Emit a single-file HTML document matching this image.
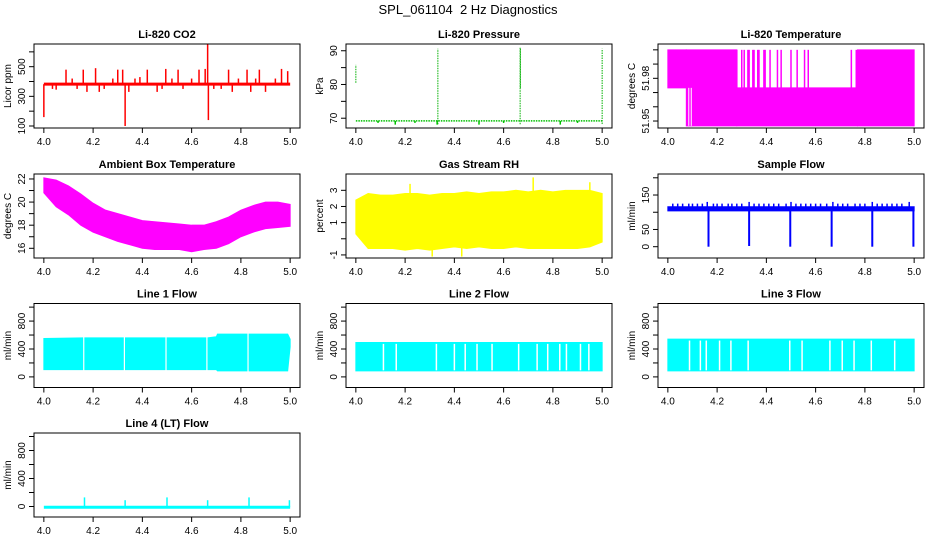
<!DOCTYPE html>
<html><head><meta charset="utf-8"><style>
html,body{margin:0;padding:0;background:#fff;}
svg{display:block;font-family:"Liberation Sans",sans-serif;}
</style></head><body>
<svg id="c" width="936" height="540" xmlns="http://www.w3.org/2000/svg">
<rect width="936" height="540" fill="#fff"/>
<text x="468" y="14" text-anchor="middle" font-size="13">SPL_061104&#160; 2 Hz Diagnostics</text>
</svg>
<script>
// ---- data arrays ----
const xTicks = [4.0, 4.2, 4.4, 4.6, 4.8, 5.0];
const xTickLabels = ["4.0","4.2","4.4","4.6","4.8","5.0"];
const envTimes = [4.0,4.05,4.1,4.15,4.2,4.25,4.3,4.35,4.4,4.45,4.5,4.55,4.6,4.65,4.7,4.75,4.8,4.85,4.9,4.95,5.0];

const co2Base = 382;
const co2SpikeTimes = [4.0,4.035,4.05,4.09,4.115,4.135,4.16,4.175,4.21,4.225,4.245,4.28,4.30,4.32,4.33,4.345,4.37,4.39,4.42,4.46,4.48,4.495,4.52,4.545,4.565,4.60,4.63,4.655,4.665,4.668,4.69,4.72,4.75,4.765,4.79,4.825,4.84,4.86,4.875,4.90,4.94,4.965,4.99];
const co2SpikeValues = [160,350,345,480,420,350,480,330,490,330,350,420,480,480,100,330,420,430,480,330,350,485,420,480,350,420,480,485,650,140,350,350,480,330,420,480,330,420,480,330,420,485,470];

const presBase = 69.2;
const presSpikeTimes = [4.0,4.333,4.667,4.668,5.0];
const presSpikeLo = [80.5,68.2,68.2,79,68.3];
const presSpikeHi = [85.8,90.6,91.0,90.8,90.6];
const presDipTimes = [4.09,4.16,4.24,4.33,4.50,4.60,4.83,4.90];
const presDipValues = [68.6,68.1,68.6,68.1,68.1,68.6,68.1,68.6];

const tempLevels = [51.9466, 51.9733, 52.0];
const tempSpikeTimes = [4.28,4.30,4.31,4.325,4.33,4.345,4.35,4.365,4.37,4.39,4.395,4.415,4.445,4.46,4.50,4.525,4.555,4.57,4.745,4.765];
const tempGapTimes = [4.085,4.095];

const ambHi = [22.1,21.9,21.4,20.7,19.9,19.3,19.0,18.7,18.4,18.3,18.2,18.1,18.0,18.0,18.3,18.7,19.3,19.7,20.0,20.0,19.8];
const ambLo = [20.8,19.6,18.9,18.0,17.4,17.0,16.6,16.3,16.0,15.9,15.9,15.9,15.7,15.9,16.0,16.4,17.0,17.4,17.7,17.8,17.9];

const rhHi = [2.4,2.8,2.7,2.7,2.8,2.8,2.7,2.8,2.8,2.9,2.8,2.9,2.9,3.0,2.9,3.0,2.9,3.0,3.0,3.0,2.8];
const rhLo = [0.3,-0.6,-0.6,-0.6,-0.7,-0.6,-0.7,-0.6,-0.5,-0.6,-0.5,-0.6,-0.6,-0.5,-0.6,-0.6,-0.6,-0.6,-0.6,-0.5,-0.2];
const rhSpikeTimes = [4.22,4.31,4.43,4.72,4.95];
const rhSpikeValues = [3.4,-1.1,-1.1,3.8,3.5];

const sfLo = 104, sfHi = 116;
const sfSpikeTimes = [4.02,4.04,4.06,4.085,4.10,4.12,4.14,4.16,4.185,4.20,4.22,4.245,4.26,4.28,4.30,4.33,4.35,4.37,4.39,4.41,4.43,4.45,4.48,4.50,4.52,4.54,4.56,4.58,4.60,4.62,4.645,4.67,4.69,4.71,4.73,4.76,4.78,4.80,4.83,4.85,4.87,4.89,4.91,4.93,4.95,4.98];
const sfSpikeValues = [125,125,125,125,125,125,125,130,125,125,125,125,125,125,125,130,125,125,125,125,125,125,125,130,125,125,125,125,125,125,125,130,125,125,125,125,125,125,130,125,125,125,125,125,125,130];
const sfDipTimes = [4.165,4.33,4.497,4.665,4.83,4.997];
const sfDipValues = [0,2,0,0,0,0];

const l1Times = [4.0,4.16,4.165,4.325,4.33,4.495,4.5,4.66,4.665,4.7,4.705,4.827,4.832,4.99,5.0];
const l1Hi = [551,560,560,560,560,560,560,560,560,575,613,613,613,613,540];
const l1Lo = [105,105,105,105,105,105,105,105,105,105,86,86,86,86,430];
const l1Gaps = [4.162,4.327,4.496,4.662,4.829];
const l2Hi = 493, l2Lo = 86;
const l2Gaps = [4.112,4.164,4.327,4.40,4.444,4.492,4.553,4.661,4.736,4.779,4.828,4.855,4.912,4.946];
const l3Hi = 541, l3Lo = 86;
const l3Gaps = [4.088,4.132,4.156,4.21,4.256,4.326,4.495,4.545,4.658,4.708,4.756,4.826,4.921];
const l4Base = -10;
const l4SpikeTimes = [4.165,4.33,4.5,4.665,4.833,4.997];
const l4SpikeValues = [130,90,130,90,130,90];

// ---- layout ----
const svg = document.getElementById('c');
const NS = 'http://www.w3.org/2000/svg';
const colX = [34,346,658], rowY = [44,174,303.5,433], PW = 266, PH = 84;
const XMIN = 3.96, XMAX = 5.04;
function mk(tag, attrs, parent){const e=document.createElementNS(NS,tag);for(const k in attrs)e.setAttribute(k,attrs[k]);(parent||svg).appendChild(e);return e;}

function panel(col,row,title,ylabel,ylim,yTicks,yLabels,name){
  const x0=colX[col], y0=rowY[row];
  const g=mk('g',{});
  
  
  const sx=v=>x0+(v-XMIN)/(XMAX-XMIN)*PW;
  const sy=v=>y0+PH-(v-ylim[0])/(ylim[1]-ylim[0])*PH;
  const plot=mk('g',{},g);
  
  
  const fr=mk('rect',{x:x0,y:y0,width:PW,height:PH,fill:'none',stroke:'#000','stroke-width':1},g);
  
  
  const t=mk('text',{x:x0+PW/2,y:y0-6,'text-anchor':'middle','font-size':11,'font-weight':'bold'},g);
  t.textContent=title;
  
  
  const xa=mk('g',{},g);
  
  
  xTicks.forEach((v,i)=>{
    mk('line',{x1:sx(v),x2:sx(v),y1:y0+PH,y2:y0+PH+5,stroke:'#000'},xa);
    const tl=mk('text',{x:sx(v),y:y0+PH+17,'text-anchor':'middle','font-size':10},xa);
    tl.textContent=xTickLabels[i];
  });
  const ya=mk('g',{},g);
  
  
  yTicks.forEach((v,i)=>{
    mk('line',{x1:x0-5,x2:x0,y1:sy(v),y2:sy(v),stroke:'#000'},ya);
    if(yLabels[i]!==''){
      const tl=mk('text',{x:0,y:0,'text-anchor':'middle','font-size':10,transform:`translate(${x0-9},${sy(v)}) rotate(-90)`},ya);
      tl.textContent=yLabels[i];
    }
  });
  const yl=mk('text',{x:0,y:0,'text-anchor':'middle','font-size':10,transform:`translate(${x0-23},${y0+PH/2}) rotate(-90)`},g);
  yl.textContent=ylabel;
  
  
  return {sx,sy,plot};
}
function vline(p,x,a,b,color,w){return mk('line',{x1:p.sx(x),x2:p.sx(x),y1:p.sy(a),y2:p.sy(b),stroke:color,'stroke-width':w||1},p.plot);}
function band(p,times,hi,lo,color){
  let pts=times.map((t,i)=>p.sx(t)+','+p.sy(hi[i]));
  for(let i=times.length-1;i>=0;i--)pts.push(p.sx(times[i])+','+p.sy(lo[i]));
  return mk('polygon',{points:pts.join(' '),fill:color,stroke:color,'stroke-width':1},p.plot);
}

// CO2
let p=panel(0,0,'Li-820 CO2','Licor ppm',[86.5,653],[100,200,300,400,500,600],['100','','300','','500',''],'co2');
mk('line',{x1:p.sx(4.0),x2:p.sx(5.0),y1:p.sy(co2Base),y2:p.sy(co2Base),stroke:'#f00','stroke-width':3},p.plot);
co2SpikeTimes.forEach((t,i)=>vline(p,t,co2Base,co2SpikeValues[i],'#f00',1.5));

// Pressure
p=panel(1,0,'Li-820 Pressure','kPa',[67.1,92],[70,75,80,85,90],['70','','80','','90'],'pressure');
mk('line',{x1:p.sx(4.0),x2:p.sx(5.0),y1:p.sy(presBase),y2:p.sy(presBase),stroke:'#00c000','stroke-width':1.5,'stroke-dasharray':'1.5 1'},p.plot);
presSpikeTimes.forEach((t,i)=>mk('line',{x1:p.sx(t),x2:p.sx(t),y1:p.sy(presSpikeLo[i]),y2:p.sy(presSpikeHi[i]),stroke:'#00b000','stroke-width':1,'stroke-dasharray':'1.5 1'},p.plot));
presDipTimes.forEach((t,i)=>vline(p,t,presBase,presDipValues[i],'#00c000',1.5));

// Temperature
p=panel(2,0,'Li-820 Temperature','degrees C',[51.9451,52.0041],[51.95,51.96,51.97,51.98,51.99,52.0],['51.95','','','51.98','',''],'li820-temperature');
band(p,[4.0,4.075],[tempLevels[2],tempLevels[2]],[tempLevels[1],tempLevels[1]],'#f0f');
band(p,[4.075,4.28],[tempLevels[2],tempLevels[2]],[tempLevels[0],tempLevels[0]],'#f0f');
band(p,[4.28,4.77],[tempLevels[1],tempLevels[1]],[tempLevels[0],tempLevels[0]],'#f0f');
band(p,[4.77,5.0],[tempLevels[2],tempLevels[2]],[tempLevels[0],tempLevels[0]],'#f0f');
tempSpikeTimes.forEach(t=>vline(p,t,tempLevels[1],tempLevels[2],'#f0f',1.5));
tempGapTimes.forEach(t=>vline(p,t,tempLevels[0],tempLevels[1],'#fff',1));

// Ambient
p=panel(0,1,'Ambient Box Temperature','degrees C',[15.16,22.43],[16,17,18,19,20,21,22],['16','','18','','20','','22'],'ambient-temperature');
band(p,envTimes,ambHi,ambLo,'#f0f');

// RH
p=panel(1,1,'Gas Stream RH','percent',[-1.19,4.01],[-1,0,1,2,3],['-1','','1','2','3'],'gas-stream-rh');
band(p,envTimes,rhHi,rhLo,'#ff0');
rhSpikeTimes.forEach((t,i)=>vline(p,t,1,rhSpikeValues[i],'#ff0',1.5));

// Sample flow
p=panel(2,1,'Sample Flow','ml/min',[-32.8,211],[0,50,100,150,200],['0','50','','150',''],'sample-flow');
band(p,[4.0,5.0],[sfHi,sfHi],[sfLo,sfLo],'#00f');
sfSpikeTimes.forEach((t,i)=>vline(p,t,sfHi,sfSpikeValues[i],'#00f',1.5));
sfDipTimes.forEach((t,i)=>vline(p,t,sfLo,sfDipValues[i],'#00f',2));

// Line flows
const flowTicks=[0,200,400,600,800,1000], flowLabels=['0','','400','','800',''];
p=panel(0,2,'Line 1 Flow','ml/min',[-152,1052],flowTicks,flowLabels,'line1-flow');
band(p,l1Times,l1Hi,l1Lo,'#0ff');
l1Gaps.forEach(t=>vline(p,t,0,700,'#fff',1.2));
p=panel(1,2,'Line 2 Flow','ml/min',[-152,1052],flowTicks,flowLabels,'line2-flow');
band(p,[4.0,5.0],[l2Hi,l2Hi],[l2Lo,l2Lo],'#0ff');
l2Gaps.forEach(t=>vline(p,t,l2Lo+8,l2Hi-20,'#fff',1.5));
p=panel(2,2,'Line 3 Flow','ml/min',[-152,1052],flowTicks,flowLabels,'line3-flow');
band(p,[4.0,5.0],[l3Hi,l3Hi],[l3Lo,l3Lo],'#0ff');
l3Gaps.forEach(t=>vline(p,t,l3Lo+8,l3Hi-20,'#fff',1.5));
p=panel(0,3,'Line 4 (LT) Flow','ml/min',[-150,1050],flowTicks,flowLabels,'line4-flow');
mk('line',{x1:p.sx(4.0),x2:p.sx(5.0),y1:p.sy(l4Base),y2:p.sy(l4Base),stroke:'#0ff','stroke-width':3},p.plot);
l4SpikeTimes.forEach((t,i)=>vline(p,t,l4Base,l4SpikeValues[i],'#0ff',1.5));
</script>
</body></html>
